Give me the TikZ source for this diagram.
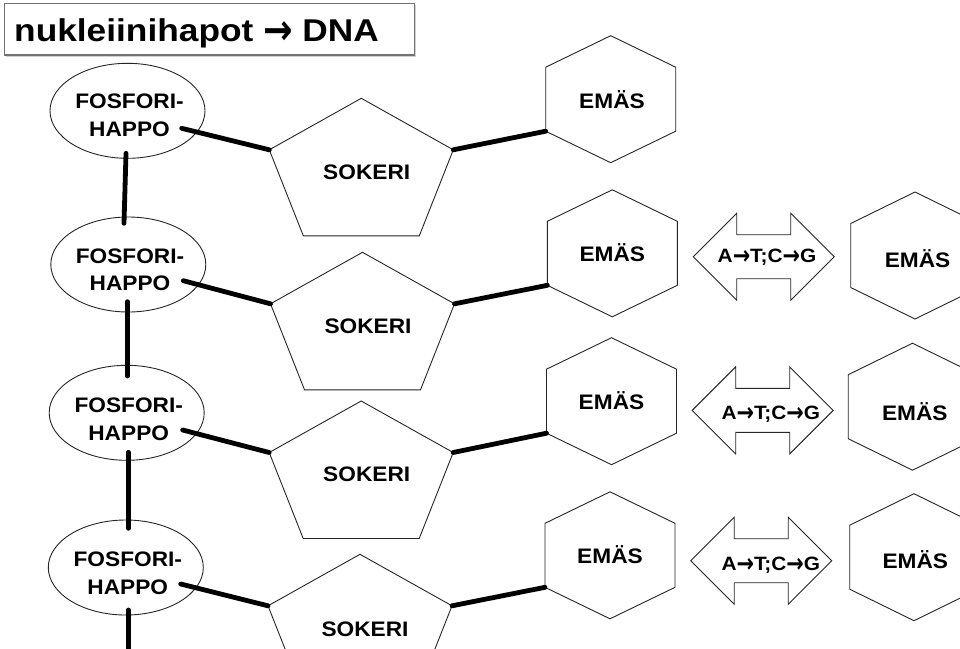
\documentclass[tikz,border=0pt]{standalone}
\usepackage{fontspec}
\setmainfont{Liberation Sans}
\newfontfamily\labfont[FakeStretch=1.08]{Liberation Sans}
\newfontfamily\titfont[FakeStretch=1.12]{Liberation Sans}
\newfontfamily\arrfont[FakeStretch=1.08]{DejaVu Sans}
\newfontfamily\arrtitfont[FakeStretch=1.12]{DejaVu Sans}
\usetikzlibrary{shapes.geometric,shadows}
\tikzset{
  outl/.style={draw=black!85, line width=0.9pt, fill=white},
  bond/.style={line width=4.8pt, line cap=round, black},
  lab/.style={font=\labfont\bfseries\fontsize{21}{27.5}\selectfont, align=center, inner sep=0pt},
  pairlab/.style={font=\labfont\bfseries\fontsize{19.3}{22}\selectfont, inner sep=0pt},
  titlab/.style={font=\titfont\bfseries\fontsize{31.5}{36}\selectfont, inner sep=0pt},
  titbox/.style={draw=black!55, line width=1.2pt, fill=white, drop shadow={opacity=0.35, shadow xshift=1pt, shadow yshift=-2pt}},
}
\newcommand\arrsym{\raisebox{-0.12em}{\scalebox{1.0}[1.35]{\arrfont\bfseries →}}}
\newcommand\titarrsym{\raisebox{-0.09em}{\scalebox{1.0}[1.35]{\arrtitfont\bfseries →}}}
\newcommand\mypent[3]{%
  \coordinate (#1t) at (#2,#3);
  \coordinate (#1l) at (#2-92,#3+51.5);
  \coordinate (#1r) at (#2+92,#3+51.5);
  \coordinate (#1bl) at (#2-58,#3+137.5);
  \coordinate (#1br) at (#2+58,#3+137.5);
  \draw[outl] (#1t) -- (#1r) -- (#1br) -- (#1bl) -- (#1l) -- cycle;
}
\newcommand\myhex[4]{%
  \coordinate (#1t) at (#2,#3-63.5);
  \coordinate (#1ur) at (#2+#4,#3-32);
  \coordinate (#1lr) at (#2+#4,#3+32);
  \coordinate (#1b) at (#2,#3+63.5);
  \coordinate (#1ll) at (#2-#4,#3+32);
  \coordinate (#1ul) at (#2-#4,#3-32);
  \draw[outl] (#1t) -- (#1ur) -- (#1lr) -- (#1b) -- (#1ll) -- (#1ul) -- cycle;
}
\newcommand\mydarr[3]{%
  \draw[outl] (#2-70.5,#3) -- (#2-27,#3-43.5) -- (#2-27,#3-22) -- (#2+27,#3-22)
    -- (#2+27,#3-43.5) -- (#2+70.5,#3) -- (#2+27,#3+43.5) -- (#2+27,#3+22)
    -- (#2-27,#3+22) -- (#2-27,#3+43.5) -- cycle;
  \coordinate (#1) at (#2,#3);
}
\begin{document}
\begin{tikzpicture}[x=1pt,y=-1pt]
\useasboundingbox (0,0) rectangle (960,648);
\clip (0,0) rectangle (960,648);
\fill[white] (0,0) rectangle (960,648);

% title
\node[titbox, minimum width=410pt, minimum height=51.6pt, anchor=north west, inner sep=0pt] (tbox) at (4,2.7) {};
\node[titlab, anchor=base west] (title) at (14,41.7) {nukleiinihapot \titarrsym{} DNA};

% ellipses
\foreach \n/\x/\y in {1/127.5/110.8, 2/128.3/264.5, 3/126.7/412.8, 4/125.8/567.5}
  \node[ellipse, outl, minimum width=155pt, minimum height=95pt, inner sep=0pt] (ell\n) at (\x,\y) {};

% pentagons
\mypent{pa}{361.3}{98.3}
\mypent{pb}{362.5}{252.3}
\mypent{pc}{361.2}{401}
\mypent{pd}{360}{554.3}

% hexagons
\myhex{ha}{610.7}{99.2}{65}
\myhex{hb}{612.3}{253.3}{65}
\myhex{hc}{611.5}{401.2}{65}
\myhex{hd}{610}{555.3}{65}
\myhex{hrb}{915}{255.5}{64.3}
\myhex{hrc}{912.5}{406.7}{64.3}
\myhex{hrd}{914}{557.2}{64.3}

% double arrows
\mydarr{da}{763.7}{256.7}
\mydarr{db}{762.7}{410.4}
\mydarr{dc}{761.2}{560.7}

% labels
\foreach \n/\x/\y in {1/129.5/109.3, 2/130/264, 3/128.7/413.3, 4/127.8/567.3}
  \node[lab, anchor=north] (fh\n) at (\x,\y-15.5) {FOSFORI-\\HAPPO};
\foreach \n/\x/\y in {1/366.7/179.3, 2/368/333.3, 3/366.7/481.7, 4/365/636}
  \node[lab, anchor=base] (sok\n) at (\x,\y) {SOKERI};
\foreach \n/\x/\y in {1/612/108.3, 2/612.3/261.7, 3/611.5/409.7, 4/610/563.8, 5/917.5/267.3, 6/914.8/420, 7/915.3/568.3}
  \node[lab, anchor=base] (em\n) at (\x,\y) {EMÄS};
\foreach \n/\x/\y in {1/767/262.3, 2/770.8/419.3, 3/770.8/570}
  \node[pairlab, anchor=base] (pair\n) at (\x,\y) {A\arrsym T;C\arrsym G};

% connector end points
\coordinate (e1c) at (181.7,128.3);
\coordinate (e2c) at (183.3,280.7);
\coordinate (e3c) at (182.7,430);
\coordinate (e4c) at (180.7,584);
\coordinate (v1a) at (126,153.3);   \coordinate (v1b) at (124,223.3);
\coordinate (v2a) at (127.3,301.7); \coordinate (v2b) at (127.3,376);
\coordinate (v3a) at (128.3,452.3); \coordinate (v3b) at (128.3,528.3);
\coordinate (v4a) at (128.3,610);   \coordinate (v4b) at (128.3,665);

% bonds
\draw[bond] (e1c) -- (pal);
\draw[bond] (e2c) -- (pbl);
\draw[bond] (e3c) -- (pcl);
\draw[bond] (e4c) -- (pdl);
\draw[bond] (par) -- (hall);
\draw[bond] (pbr) -- (hbll);
\draw[bond] (pcr) -- (hcll);
\draw[bond] (pdr) -- (hdll);
\draw[bond] (v1a) -- (v1b);
\draw[bond] (v2a) -- (v2b);
\draw[bond] (v3a) -- (v3b);
\draw[bond] (v4a) -- (v4b);
\end{tikzpicture}
\end{document}
